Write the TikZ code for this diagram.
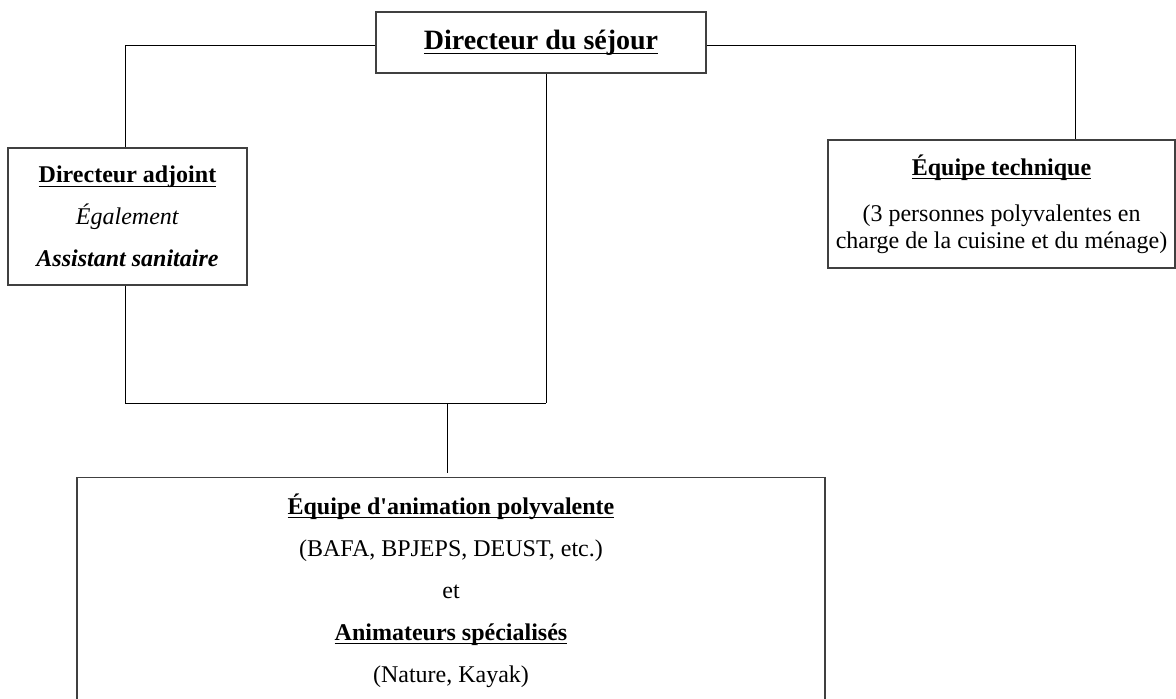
\documentclass[tikz,border=0pt]{standalone}
\usepackage{amsmath}
\usepackage{fontspec}
\setmainfont{Liberation Serif}[Ligatures=TeXOff]
\usetikzlibrary{positioning}
\newcommand{\souligne}[1]{\underline{\smash[b]{#1}}}

\begin{document}
\begin{tikzpicture}[x=0.5pt, y=-0.5pt,
  poste/.style={draw=black!75, line width=0.6pt, align=center, inner sep=0pt, font=\fontsize{12}{21}\selectfont},
  lien/.style={line width=0.5pt}]
\clip (0,0) rectangle (1176,698);
% Boxes
\node[poste, minimum width=165pt, minimum height=30.5pt, font=\fontsize{14}{16}\selectfont\bfseries] (dir) at (541,42.5) {\souligne{Directeur du séjour}};
\node[poste, minimum width=119.5pt, minimum height=68.5pt] (adj) at (127.5,216.5) {\textbf{\souligne{Directeur adjoint}}\\ \textit{Également}\\ \textbf{\textit{Assistant sanitaire}}};
\node[poste, minimum width=173.5pt, minimum height=64pt, font=\fontsize{12}{13.5}\selectfont] (tech) at (1001.5,204) {\textbf{\souligne{Équipe technique}}\\[9.5pt] (3 personnes polyvalentes en\\ charge de la cuisine et du ménage)};
\node[poste, anchor=north, minimum width=374pt, minimum height=113pt] (anim) at (451,477) {\textbf{\souligne{Équipe d'animation polyvalente}}\\ (BAFA, BPJEPS, DEUST, etc.)\\ et\\ \textbf{\souligne{Animateurs spécialisés}}\\ (Nature, Kayak)};
% Links
\coordinate (jonction) at (546,403);
\coordinate (pied) at (447,403);
\draw[lien] ([yshift=-1.25pt]dir.west) -| ([xshift=-1.25pt]adj.north);
\draw[lien] ([yshift=-1.25pt]dir.east) -| ([xshift=36.75pt]tech.north);
\draw[lien] ([xshift=2.5pt]dir.south) -- (jonction);
\draw[lien] ([xshift=-1.25pt]adj.south) |- (jonction);
\draw[lien] (pied) -- ([yshift=2pt]pied |- anim.north);
\end{tikzpicture}
\end{document}
